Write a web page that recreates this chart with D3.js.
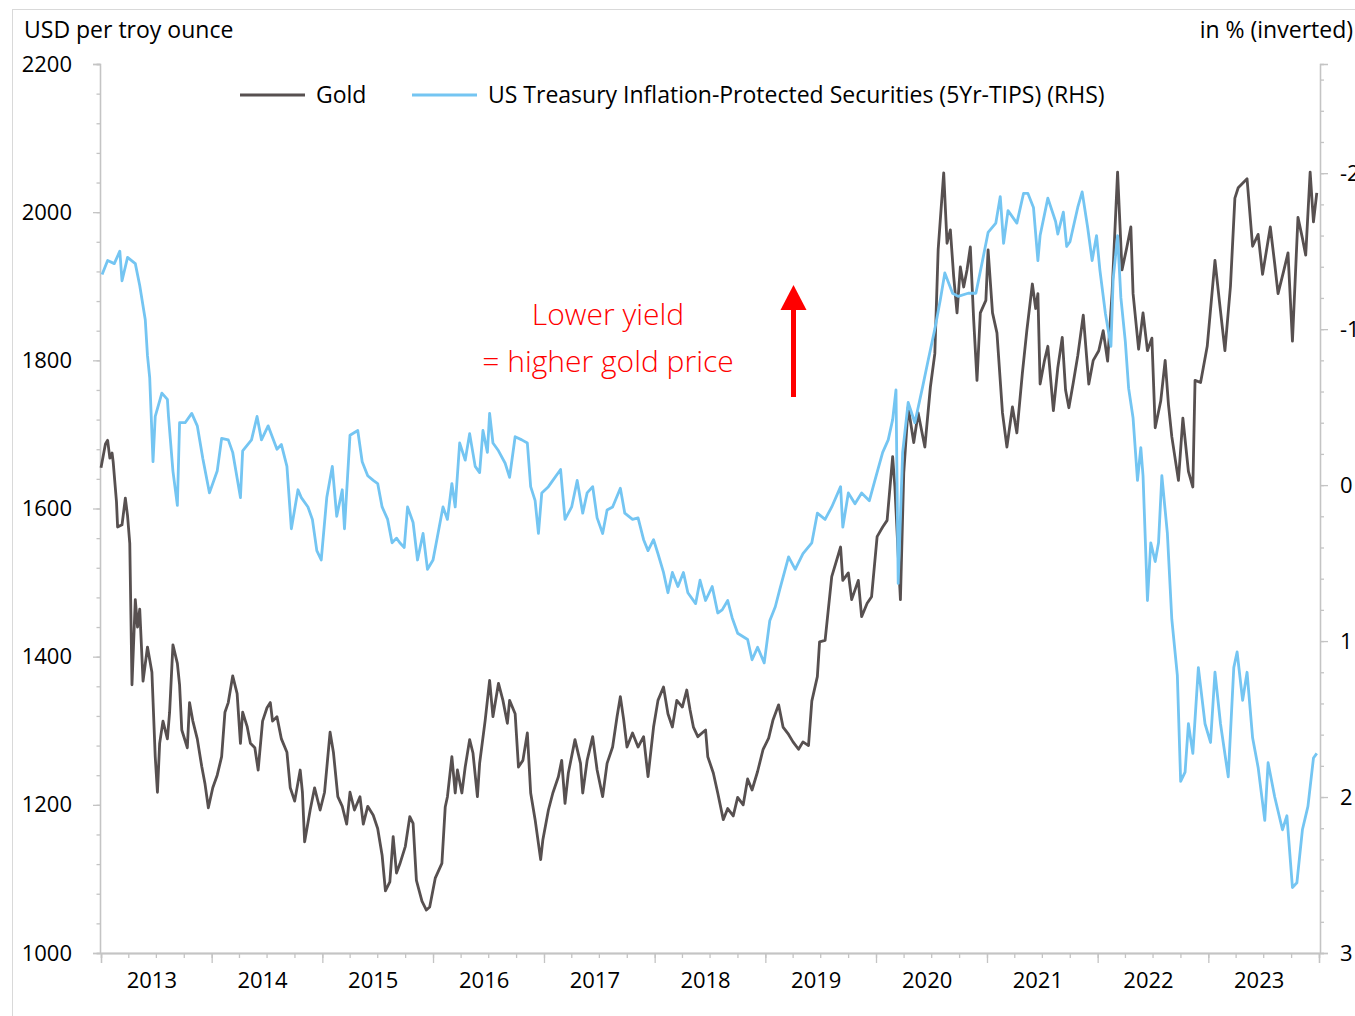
<!DOCTYPE html>
<html>
<head>
<meta charset="utf-8">
<script src="https://cdn.jsdelivr.net/npm/d3@7"></script>
<style>
  html, body { margin: 0; padding: 0; background: #ffffff; }
  svg { display: block; font-family: "Open Sans", Lato, sans-serif; }
</style>
</head>
<body>
<svg id="chart" width="1355" height="1016"></svg>
<script>
// ---------------- DATA (decimal years) ----------------
const goldDates = [
  2013.00,2013.04,2013.06,2013.08,2013.10,2013.11,2013.14,2013.15,2013.19,2013.22,2013.24,2013.26,2013.28,2013.31,2013.33,2013.35,2013.38,2013.42,2013.46,2013.49,2013.51,2013.53,2013.56,2013.60,2013.62,2013.65,2013.69,2013.71,2013.73,2013.78,2013.80,2013.83,2013.87,2013.91,2013.94,2013.97,
  2014.01,2014.05,2014.09,2014.12,2014.15,2014.19,2014.23,2014.26,2014.28,2014.32,2014.35,2014.39,2014.42,2014.46,2014.50,2014.53,2014.55,2014.59,2014.63,2014.68,2014.71,2014.75,2014.80,2014.82,2014.84,2014.89,2014.93,2014.98,
  2015.02,2015.07,2015.10,2015.14,2015.18,2015.22,2015.25,2015.29,2015.34,2015.37,2015.41,2015.46,2015.50,2015.54,2015.57,2015.61,2015.64,2015.67,2015.70,2015.75,2015.79,2015.82,2015.85,2015.90,2015.94,2015.97,
  2016.02,2016.08,2016.11,2016.13,2016.17,2016.20,2016.22,2016.26,2016.29,2016.33,2016.36,2016.40,2016.42,2016.47,2016.51,2016.54,2016.59,2016.63,2016.67,2016.69,2016.74,2016.77,2016.81,2016.85,2016.88,2016.92,2016.97,2016.99,
  2017.04,2017.08,2017.13,2017.16,2017.19,2017.22,2017.28,2017.33,2017.35,2017.39,2017.44,2017.48,2017.53,2017.57,2017.62,2017.66,2017.69,2017.72,2017.75,2017.80,2017.85,2017.90,2017.94,2017.99,
  2018.03,2018.08,2018.12,2018.16,2018.20,2018.25,2018.29,2018.32,2018.35,2018.39,2018.46,2018.48,2018.53,2018.57,2018.62,2018.66,2018.71,2018.75,2018.80,2018.84,2018.88,2018.93,2018.98,
  2019.03,2019.07,2019.12,2019.16,2019.21,2019.25,2019.30,2019.34,2019.39,2019.42,2019.47,2019.49,2019.54,2019.60,2019.68,2019.70,2019.75,2019.78,2019.84,2019.87,2019.92,2019.96,
  2020.01,2020.06,2020.10,2020.15,2020.17,2020.22,2020.25,2020.29,2020.34,2020.38,2020.44,2020.49,2020.53,2020.56,2020.61,2020.64,2020.67,2020.70,2020.73,2020.76,2020.79,2020.82,2020.85,2020.88,2020.91,2020.94,2020.99,
  2021.01,2021.05,2021.09,2021.14,2021.18,2021.23,2021.27,2021.32,2021.36,2021.41,2021.44,2021.46,2021.48,2021.52,2021.55,2021.60,2021.64,2021.68,2021.71,2021.74,2021.78,2021.82,2021.87,2021.92,2021.96,
  2022.01,2022.05,2022.09,2022.13,2022.18,2022.22,2022.26,2022.30,2022.32,2022.37,2022.41,2022.45,2022.49,2022.52,2022.57,2022.61,2022.64,2022.67,2022.73,2022.77,2022.82,2022.86,2022.88,2022.93,2022.99,
  2023.06,2023.10,2023.15,2023.20,2023.24,2023.27,2023.35,2023.40,2023.45,2023.49,2023.56,2023.60,2023.63,2023.68,2023.72,2023.76,2023.81,2023.85,2023.88,2023.92,2023.95,2023.98
];
const goldValues = [
  1655,1687,1692,1668,1675,1663,1609,1575,1578,1614,1590,1553,1362,1477,1440,1464,1367,1413,1379,1265,1217,1283,1313,1289,1325,1416,1391,1362,1301,1277,1338,1313,1289,1252,1228,1196,
  1223,1240,1265,1325,1338,1374,1350,1283,1325,1306,1283,1277,1247,1313,1331,1338,1313,1319,1289,1271,1223,1205,1247,1217,1150,1193,1223,1193,
  1217,1298,1271,1211,1198,1174,1217,1193,1211,1174,1198,1186,1168,1132,1084,1096,1157,1108,1120,1144,1184,1175,1098,1070,1058,1062,
  1101,1121,1197,1211,1265,1216,1247,1216,1251,1288,1270,1211,1256,1314,1368,1319,1364,1341,1310,1341,1323,1251,1260,1297,1216,1180,1126,1153,
  1193,1216,1238,1260,1202,1243,1288,1256,1216,1260,1292,1247,1211,1256,1278,1319,1346,1315,1278,1297,1278,1292,1238,1305,
  1341,1359,1323,1305,1341,1332,1355,1328,1305,1292,1301,1265,1243,1216,1180,1195,1185,1210,1200,1235,1220,1245,1275,
  1290,1315,1335,1305,1295,1285,1275,1285,1280,1340,1373,1420,1422,1508,1548,1503,1513,1477,1503,1454,1472,1481,
  1562,1575,1584,1670,1629,1477,1648,1737,1689,1729,1683,1764,1809,1949,2053,1958,1976,1913,1864,1926,1899,1922,1953,1855,1773,1864,1881,
  1949,1864,1837,1729,1683,1737,1702,1783,1840,1903,1870,1890,1768,1800,1819,1732,1790,1831,1760,1736,1770,1806,1861,1768,1800,
  1813,1840,1799,1890,2054,1922,1950,1980,1890,1815,1864,1813,1830,1709,1745,1800,1740,1697,1638,1722,1650,1629,1773,1770,1819,
  1935,1880,1813,1900,2019,2033,2045,1954,1970,1916,1980,1930,1890,1920,1945,1826,1993,1965,1942,2054,1987,2026
];

const tipsDates = [
  2013.01,2013.06,2013.12,2013.17,2013.19,2013.24,2013.31,2013.35,2013.40,2013.42,2013.44,2013.47,2013.49,2013.55,2013.60,2013.61,2013.65,2013.69,2013.71,2013.76,2013.82,2013.87,2013.92,2013.98,
  2014.05,2014.09,2014.15,2014.19,2014.26,2014.28,2014.36,2014.41,2014.45,2014.51,2014.59,2014.63,2014.68,2014.72,2014.78,2014.81,2014.87,2014.91,2014.95,2014.99,
  2015.04,2015.09,2015.13,2015.18,2015.20,2015.25,2015.32,2015.36,2015.41,2015.46,2015.50,2015.54,2015.59,2015.63,2015.67,2015.70,2015.74,2015.77,2015.82,2015.86,2015.91,2015.95,
  2016.00,2016.04,2016.09,2016.13,2016.17,2016.20,2016.24,2016.29,2016.33,2016.38,2016.42,2016.45,2016.49,2016.51,2016.54,2016.59,2016.65,2016.69,2016.74,2016.80,2016.85,2016.88,2016.92,2016.95,2016.98,
  2017.04,2017.08,2017.15,2017.19,2017.25,2017.30,2017.35,2017.39,2017.44,2017.48,2017.53,2017.57,2017.62,2017.69,2017.73,2017.80,2017.85,2017.90,2017.94,2017.99,
  2018.03,2018.08,2018.12,2018.16,2018.21,2018.26,2018.30,2018.37,2018.41,2018.46,2018.52,2018.57,2018.61,2018.66,2018.70,2018.75,2018.84,2018.88,2018.93,2018.99,
  2019.04,2019.09,2019.13,2019.21,2019.27,2019.34,2019.42,2019.47,2019.54,2019.60,2019.68,2019.70,2019.75,2019.81,2019.87,2019.94,2019.99,
  2020.06,2020.11,2020.15,2020.18,2020.20,2020.24,2020.29,2020.35,2020.42,2020.47,2020.53,2020.58,2020.62,2020.69,2020.74,2020.83,2020.90,2020.96,
  2021.01,2021.08,2021.12,2021.15,2021.19,2021.27,2021.33,2021.37,2021.42,2021.46,2021.48,2021.55,2021.62,2021.64,2021.69,2021.72,2021.75,2021.82,2021.86,2021.91,2021.95,2021.99,
  2022.02,2022.07,2022.12,2022.14,2022.18,2022.21,2022.25,2022.28,2022.32,2022.36,2022.39,2022.41,2022.45,2022.48,2022.52,2022.55,2022.58,2022.63,2022.67,2022.72,2022.75,2022.79,2022.82,2022.86,2022.91,2022.97,
  2023.02,2023.06,2023.11,2023.18,2023.23,2023.26,2023.31,2023.35,2023.40,2023.45,2023.51,2023.54,2023.60,2023.67,2023.71,2023.76,2023.80,2023.85,2023.90,2023.95,2023.98
];
const tipsValues = [
  -1.35,-1.44,-1.42,-1.50,-1.31,-1.46,-1.42,-1.28,-1.06,-0.83,-0.69,-0.15,-0.44,-0.59,-0.55,-0.44,-0.09,0.13,-0.40,-0.40,-0.46,-0.38,-0.17,0.05,
  -0.09,-0.30,-0.29,-0.21,0.08,-0.22,-0.29,-0.44,-0.29,-0.38,-0.23,-0.26,-0.12,0.28,0.03,0.08,0.14,0.22,0.42,0.48,
  0.08,-0.12,0.20,0.03,0.28,-0.32,-0.35,-0.15,-0.06,-0.03,-0.01,0.14,0.22,0.37,0.34,0.37,0.40,0.14,0.24,0.48,0.31,0.54,
  0.48,0.33,0.14,0.22,-0.01,0.14,-0.27,-0.16,-0.33,-0.12,-0.08,-0.35,-0.21,-0.46,-0.27,-0.22,-0.14,-0.05,-0.31,-0.29,-0.27,0.01,0.10,0.31,0.05,
  0.01,-0.03,-0.10,0.22,0.14,-0.03,0.18,0.05,0.01,0.21,0.31,0.16,0.14,0.02,0.18,0.22,0.21,0.35,0.42,0.35,
  0.44,0.56,0.69,0.56,0.65,0.56,0.69,0.76,0.61,0.74,0.65,0.82,0.80,0.74,0.85,0.95,0.99,1.12,1.04,1.14,
  0.87,0.78,0.67,0.46,0.54,0.44,0.37,0.18,0.22,0.14,0.01,0.27,0.05,0.12,0.05,0.10,-0.03,
  -0.21,-0.29,-0.42,-0.61,0.63,-0.21,-0.53,-0.40,-0.63,-0.80,-1.00,-1.19,-1.36,-1.23,-1.21,-1.23,-1.23,-1.44,
  -1.62,-1.68,-1.85,-1.55,-1.76,-1.68,-1.87,-1.87,-1.78,-1.44,-1.60,-1.84,-1.69,-1.61,-1.75,-1.53,-1.56,-1.78,-1.88,-1.65,-1.44,-1.60,
  -1.38,-1.10,-0.89,-1.32,-1.60,-1.20,-0.92,-0.62,-0.43,-0.03,-0.24,-0.06,0.74,0.37,0.49,0.37,-0.06,0.31,0.86,1.22,1.90,1.84,1.53,1.72,1.17,1.53,
  1.65,1.20,1.53,1.87,1.17,1.07,1.38,1.20,1.62,1.81,2.15,1.78,2.00,2.21,2.12,2.58,2.55,2.21,2.06,1.75,1.72
];

const yearLabels = ["2013","2014","2015","2016","2017","2018","2019","2020","2021","2022","2023"];
const leftTicks = [1000, 1200, 1400, 1600, 1800, 2000, 2200];
const rightTicks = [-2, -1, 0, 1, 2, 3];
const seriesNames = ["Gold", "US Treasury Inflation-Protected Securities (5Yr-TIPS) (RHS)"];
const axisTitles = ["USD per troy ounce", "in % (inverted)"];
const annotationLines = ["Lower yield", "= higher gold price"];

// ---------------- LAYOUT ----------------
const GOLD = "#575050", BLUE = "#74c5f2", AXIS = "#c4c4c4", RED = "#ff0000";
const plot = { left: 100, right: 1320, top: 64, bottom: 953 };
const FS = 22, FS_TEXT = 23;
const FONT = "'Open Sans', Lato, sans-serif";

function decToDate(t) {
  const y = Math.floor(t);
  const s = Date.UTC(y, 0, 1), e = Date.UTC(y + 1, 0, 1);
  return new Date(s + (t - y) * (e - s));
}

const svg = d3.select("#chart");

// outer frame
svg.append("rect").attr("x", 12.5).attr("y", 9.5).attr("width", 1400).attr("height", 1100)
  .attr("fill", "none").attr("stroke", "#d9d9d9").attr("stroke-width", 1);

const x = d3.scaleUtc()
  .domain([new Date(Date.UTC(2013, 0, 1)), new Date(Date.UTC(2024, 0, 1))])
  .range([plot.left + 1, plot.right - 1]);
const yL = d3.scaleLinear().domain([1000, 2200]).range([plot.bottom, plot.top]);
const yR = d3.scaleLinear().domain([3, -2.7]).range([plot.bottom, plot.top]);

function styleAxis(g) {
  g.selectAll("path.domain").attr("stroke", AXIS).attr("stroke-width", 1.3);
  g.selectAll(".tick line").attr("stroke", AXIS).attr("stroke-width", 1.3);
  g.selectAll(".tick text").attr("fill", "#000").style("font-size", FS + "px").style("font-family", FONT);
}

// Left axis: minor ticks then major
svg.append("g").attr("transform", `translate(${plot.left},0)`)
  .call(d3.axisLeft(yL).tickValues(d3.range(1000, 2201, 40)).tickSize(3.5).tickFormat(""))
  .call(styleAxis);
svg.append("g").attr("transform", `translate(${plot.left},0)`)
  .call(d3.axisLeft(yL).tickValues(leftTicks).tickSize(7).tickPadding(21).tickFormat(d3.format("d")))
  .call(styleAxis);

// Right axis
svg.append("g").attr("transform", `translate(${plot.right},0)`)
  .call(d3.axisRight(yR).tickValues(d3.range(-13, 16).map(i => i / 5)).tickSize(4).tickFormat(""))
  .call(styleAxis);
svg.append("g").attr("transform", `translate(${plot.right},0)`)
  .call(d3.axisRight(yR).tickValues(rightTicks).tickSize(8).tickPadding(12).tickFormat(d => String(d)))
  .call(styleAxis);

// Bottom axis: quarterly minor ticks and yearly major ticks
const quarters = d3.utcMonth.every(3).range(new Date(Date.UTC(2013, 0, 1)), new Date(Date.UTC(2024, 0, 2)));
svg.append("g").attr("transform", `translate(0,${plot.bottom})`)
  .call(d3.axisBottom(x).tickValues(quarters).tickSize(5).tickFormat(""))
  .call(styleAxis);
const years = d3.utcYear.range(new Date(Date.UTC(2013, 0, 1)), new Date(Date.UTC(2024, 0, 2)));
svg.append("g").attr("transform", `translate(0,${plot.bottom})`)
  .call(d3.axisBottom(x).tickValues(years).tickSize(10).tickFormat(""))
  .call(styleAxis);
svg.append("line").attr("x1", plot.left).attr("x2", plot.right).attr("y1", plot.bottom + 0.5).attr("y2", plot.bottom + 0.5)
  .attr("stroke", AXIS).attr("stroke-width", 1.3);

svg.append("g").selectAll("text").data(yearLabels).join("text")
  .attr("x", d => x(new Date(Date.UTC(+d, 6, 1))) - 4)
  .attr("y", 979)
  .attr("text-anchor", "middle").attr("dominant-baseline", "central")
  .style("font-size", FS + "px").style("font-family", FONT).attr("fill", "#000")
  .text(d => d);

// axis titles
svg.append("text").attr("x", 24).attr("y", 29).attr("dominant-baseline", "central")
  .style("font-size", FS_TEXT + "px").style("font-family", FONT).attr("fill", "#000").text(axisTitles[0]);
svg.append("text").attr("x", 1353).attr("y", 29).attr("dominant-baseline", "central").attr("text-anchor", "end")
  .style("font-size", FS_TEXT + "px").style("font-family", FONT).attr("fill", "#000").text(axisTitles[1]);

// ---------------- LINES ----------------
const gold = goldDates.map((t, i) => ({ d: decToDate(t), v: goldValues[i] }));
const tips = tipsDates.map((t, i) => ({ d: decToDate(t), v: tipsValues[i] }));

svg.append("path").datum(gold)
  .attr("fill", "none").attr("stroke", GOLD).attr("stroke-width", 2.8).attr("stroke-linejoin", "round")
  .attr("d", d3.line().x(p => x(p.d)).y(p => yL(p.v)));
svg.append("path").datum(tips)
  .attr("fill", "none").attr("stroke", BLUE).attr("stroke-width", 2.8).attr("stroke-linejoin", "round")
  .attr("d", d3.line().x(p => x(p.d)).y(p => yR(p.v)));

// ---------------- LEGEND ----------------
const legend = [
  { name: seriesNames[0], color: GOLD, x0: 240 },
  { name: seriesNames[1], color: BLUE, x0: 412 }
];
const lg = svg.append("g");
legend.forEach(l => {
  lg.append("line").attr("x1", l.x0).attr("x2", l.x0 + 65).attr("y1", 95).attr("y2", 95)
    .attr("stroke", l.color).attr("stroke-width", 3);
  lg.append("text").attr("x", l.x0 + 76).attr("y", 94).attr("dominant-baseline", "central")
    .style("font-size", FS_TEXT + "px").style("font-family", FONT).attr("fill", "#000").text(l.name);
});

// ---------------- ANNOTATION ----------------
svg.append("g").selectAll("text").data(annotationLines).join("text")
  .attr("x", 608).attr("y", (d, i) => 313 + i * 47)
  .attr("text-anchor", "middle").attr("dominant-baseline", "central")
  .style("font-size", "30px").style("font-weight", 300).style("font-family", FONT).attr("fill", RED)
  .text(d => d);

svg.append("line").attr("x1", 793.5).attr("x2", 793.5).attr("y1", 397).attr("y2", 305)
  .attr("stroke", RED).attr("stroke-width", 5);
svg.append("path").attr("d", "M793.5,285 L806.5,310 L780.5,310 Z").attr("fill", RED);
</script>
</body>
</html>
